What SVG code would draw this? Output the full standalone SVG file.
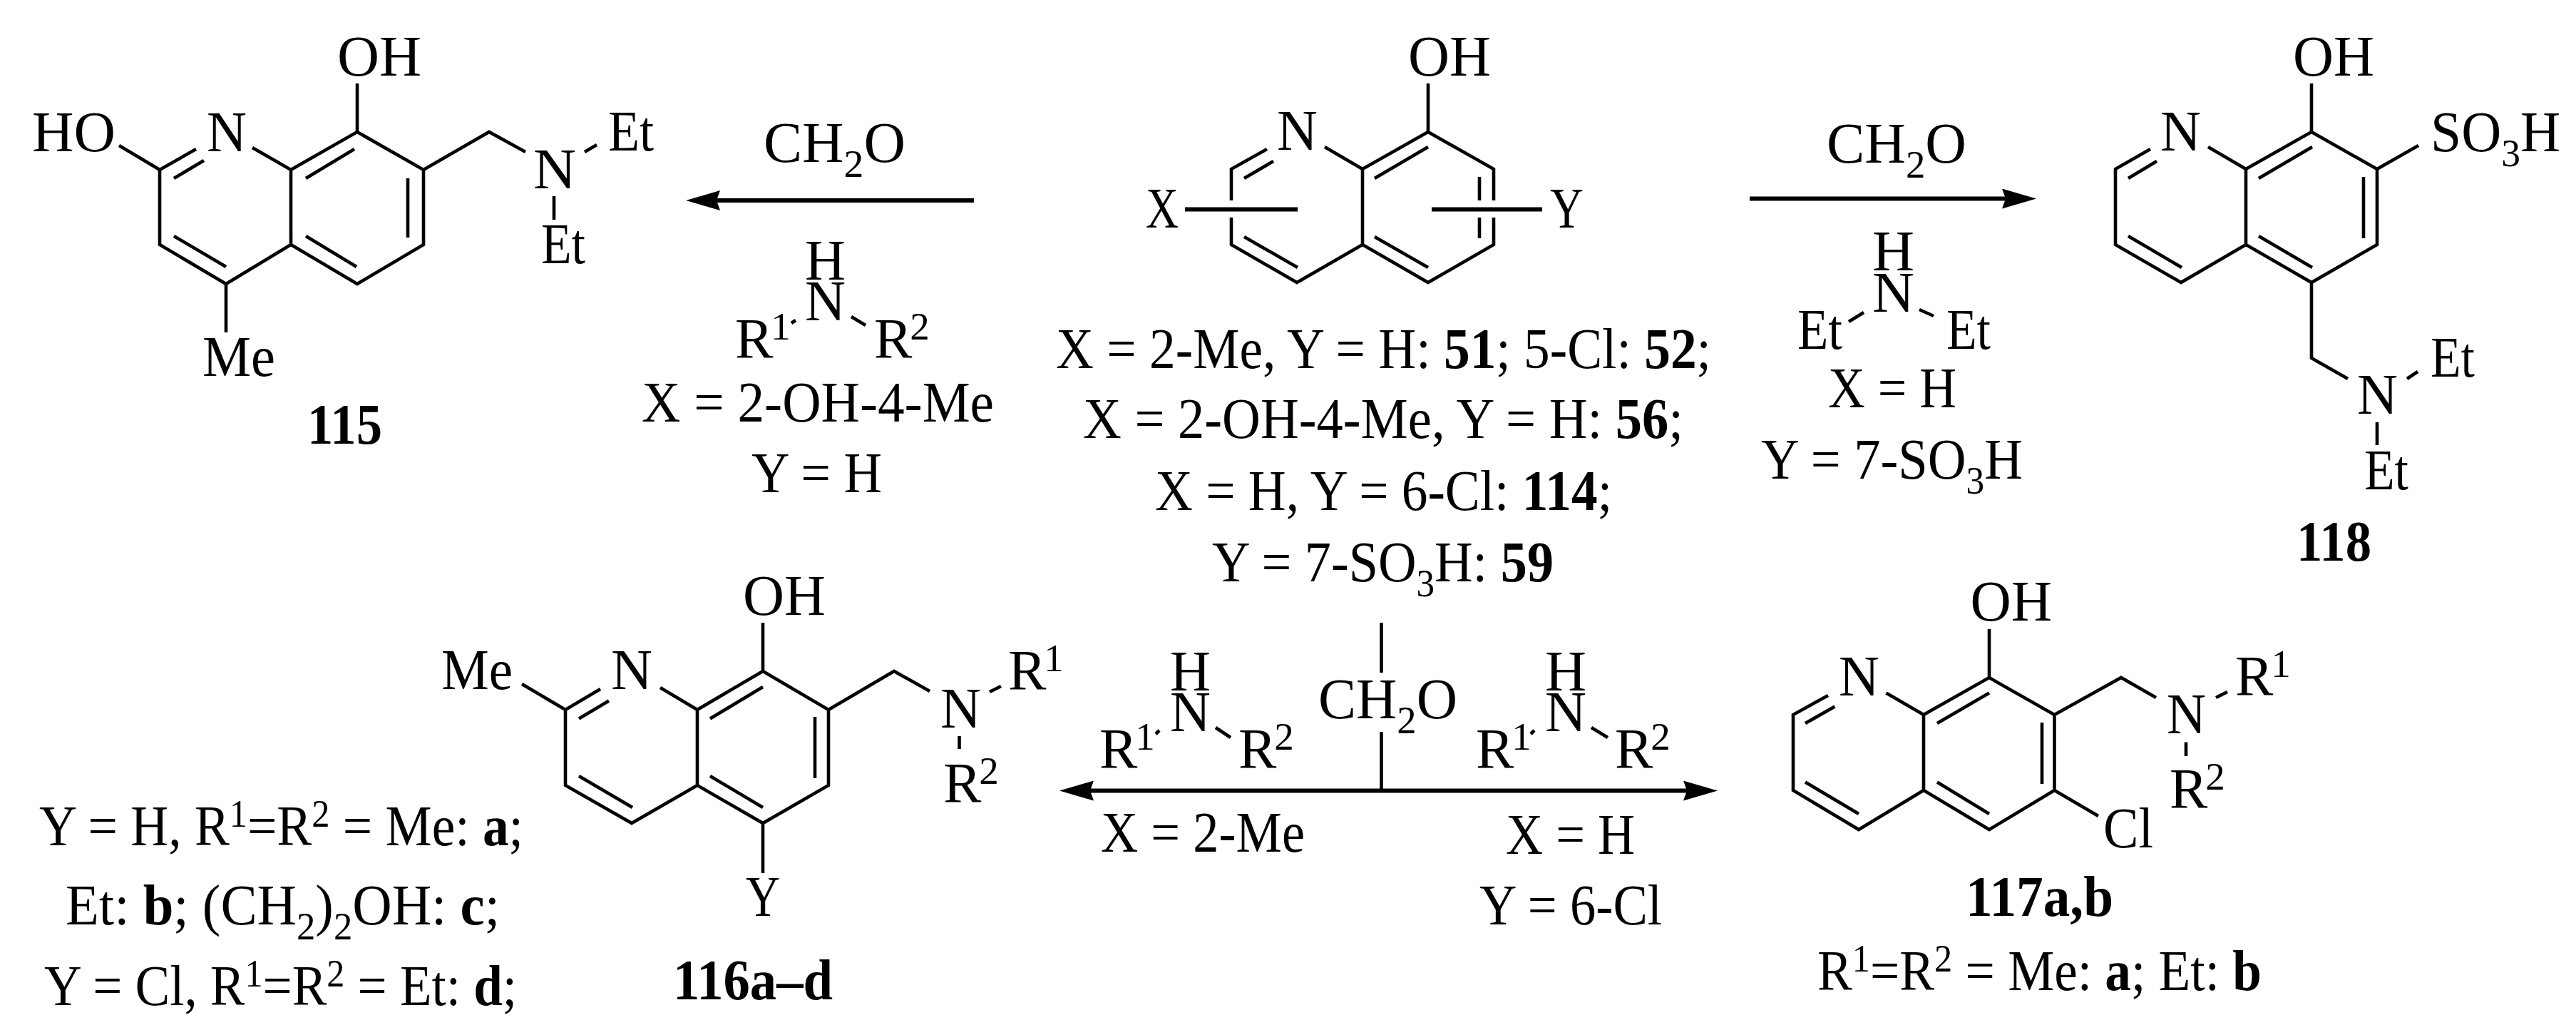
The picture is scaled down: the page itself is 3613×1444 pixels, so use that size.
<svg xmlns="http://www.w3.org/2000/svg" width="3613" height="1444" viewBox="0 0 3613 1444">
<style>
text{font-family:"Liberation Serif","Times New Roman",serif;font-size:80px;fill:#000}
.w{font-weight:700}
tspan.w{font-weight:700}
.s{font-size:55px}
.bond{fill:none;stroke:#000;stroke-width:4.6;stroke-linejoin:miter}
.thick{fill:none;stroke:#000;stroke-width:6}
.arrow{fill:none;stroke:#000;stroke-width:6}
</style>
<defs>
<marker id="head" markerUnits="userSpaceOnUse" markerWidth="48" markerHeight="28" viewBox="0 0 48 28" refX="18" refY="14" orient="auto-start-reverse">
<path d="M0,0L48,14L0,28L5,14Z" fill="#000"/>
</marker>
</defs>
<rect width="3613" height="1444" fill="#fff"/>

<g id="connectors">
<path class="arrow" d="M1366,281H992" marker-end="url(#head)"/>
<path class="arrow" d="M2454,278.500H2826" marker-end="url(#head)"/>
<path class="arrow" d="M1516,1108.500H2379" marker-start="url(#head)" marker-end="url(#head)"/>
<path class="bond" d="M1937.500,873V943M1937.500,1026V1106"/>
</g>

<g id="node-115">
<path class="bond" d="M501,117V185L408,238M501,185L594,238V343L501,398L408,343V238M408,343L317,398L224,343V238L275,209M224,238L167,204M244,250L286,225M354,207L408,238M429,250L497,209M572,250V333M429,331L500,374M244,331L317,374M317,398V466M594,238L686,185L737,213M820,213L837,203M777,275V308"/>
<text x="473" y="105.500" textLength="118" lengthAdjust="spacingAndGlyphs">OH</text>
<text x="45" y="212" textLength="117" lengthAdjust="spacingAndGlyphs">HO</text>
<text x="290" y="212" textLength="56" lengthAdjust="spacingAndGlyphs">N</text>
<text x="853" y="211" textLength="64" lengthAdjust="spacingAndGlyphs">Et</text>
<text x="748" y="264" textLength="60" lengthAdjust="spacingAndGlyphs">N</text>
<text x="759" y="369" textLength="62" lengthAdjust="spacingAndGlyphs">Et</text>
<text x="284" y="527" textLength="102" lengthAdjust="spacingAndGlyphs">Me</text>
<text class="w" x="431" y="622" textLength="105" lengthAdjust="spacingAndGlyphs">115</text>
</g>

<g id="reagent-115">
<text x="1071" y="227" textLength="199" lengthAdjust="spacingAndGlyphs">CH<tspan class="s" dy="21">2</tspan><tspan dy="-21">O</tspan></text>
<text x="1129" y="392" textLength="57" lengthAdjust="spacingAndGlyphs">H</text>
<text x="1129" y="449" textLength="57" lengthAdjust="spacingAndGlyphs">N</text>
<text x="1031" y="502">R<tspan class="s" dx="-3" dy="-26">1</tspan></text>
<text x="1226" y="502">R<tspan class="s" dx="-3" dy="-26">2</tspan></text>
<path class="bond" d="M1110,453L1116,449M1194,444L1214,456"/>
<text x="900" y="591" textLength="494" lengthAdjust="spacingAndGlyphs">X = 2-OH-4-Me</text>
<text x="1054" y="690" textLength="183" lengthAdjust="spacingAndGlyphs">Y = H</text>
</g>

<g id="node-center">
<path class="bond" d="M2003,117V185L1911,237M2003,185L2095,237V281M2095,305V343L2003,396L1911,343V237M1911,343L1819,396L1727,343V305M1727,281V237L1777,209M1745,250L1786,226M1858,206L1911,237M2075,248V281M2075,305V334M1928,250L2003,206M1928,332L2003,375M1745,332L1820,375"/>
<path class="thick" d="M1662,293.500H1820M2008,293.500H2163"/>
<text x="1975" y="105.500" textLength="116" lengthAdjust="spacingAndGlyphs">OH</text>
<text x="1791" y="210" textLength="57" lengthAdjust="spacingAndGlyphs">N</text>
<text x="1607" y="319" textLength="46" lengthAdjust="spacingAndGlyphs">X</text>
<text x="2174" y="319" textLength="47" lengthAdjust="spacingAndGlyphs">Y</text>
<text x="1481" y="516" textLength="919" lengthAdjust="spacingAndGlyphs">X = 2-Me, Y = H: <tspan class="w">51</tspan>; 5-Cl: <tspan class="w">52</tspan>;</text>
<text x="1519" y="614" textLength="842" lengthAdjust="spacingAndGlyphs">X = 2-OH-4-Me, Y = H: <tspan class="w">56</tspan>;</text>
<text x="1620" y="715" textLength="641" lengthAdjust="spacingAndGlyphs">X = H, Y = 6-Cl: <tspan class="w">114</tspan>;</text>
<text x="1700" y="815" textLength="479" lengthAdjust="spacingAndGlyphs">Y = 7-SO<tspan class="s" dy="21">3</tspan><tspan dy="-21">H: </tspan><tspan class="w">59</tspan></text>
</g>

<g id="reagent-118">
<text x="2562" y="228" textLength="196" lengthAdjust="spacingAndGlyphs">CH<tspan class="s" dy="21">2</tspan><tspan dy="-21">O</tspan></text>
<text x="2626" y="379" textLength="59" lengthAdjust="spacingAndGlyphs">H</text>
<text x="2626" y="436.500" textLength="59" lengthAdjust="spacingAndGlyphs">N</text>
<text x="2521" y="488.500" textLength="63" lengthAdjust="spacingAndGlyphs">Et</text>
<text x="2730" y="488.500" textLength="62" lengthAdjust="spacingAndGlyphs">Et</text>
<path class="bond" d="M2593,451L2614,438M2692,434L2712,443"/>
<text x="2564" y="571" textLength="180" lengthAdjust="spacingAndGlyphs">X = H</text>
<text x="2470" y="670.500" textLength="367" lengthAdjust="spacingAndGlyphs">Y = 7-SO<tspan class="s" dy="21">3</tspan><tspan dy="-21">H</tspan></text>
</g>

<g id="node-118">
<path class="bond" d="M3242,117V185L3150,237M3242,185L3334,237V343L3242,396L3150,343V237M3150,343L3059,396L2967,343V237L3016,209M3097,206L3150,237M2985,250L3025,226M2985,331L3060,375M3168,250L3243,206M3315,248V334M3168,331L3243,375M3334,237L3392,204M3242,396V502L3293,531M3376,531L3391,521M3334,592V624"/>
<text x="3216" y="105.500" textLength="114" lengthAdjust="spacingAndGlyphs">OH</text>
<text x="3030" y="210.500" textLength="57" lengthAdjust="spacingAndGlyphs">N</text>
<text x="3409" y="211.500" textLength="182" lengthAdjust="spacingAndGlyphs">SO<tspan class="s" dy="21">3</tspan><tspan dy="-21">H</tspan></text>
<text x="3306" y="580" textLength="57" lengthAdjust="spacingAndGlyphs">N</text>
<text x="3409" y="527.500" textLength="62" lengthAdjust="spacingAndGlyphs">Et</text>
<text x="3316" y="685.500" textLength="62" lengthAdjust="spacingAndGlyphs">Et</text>
<text class="w" x="3221" y="786" textLength="105" lengthAdjust="spacingAndGlyphs">118</text>
</g>

<g id="node-116">
<path class="bond" d="M1070,873V941L978,995M1070,941L1162,995V1101L1070,1154L978,1101V995M978,1101L886,1154L793,1101V995L842,966M926,964L978,995M793,995L732,959M812,1007.500L854,982.500M812,1088L887,1132M996,1007.500L1070,963M1143,1005V1091M996,1088L1070,1132M1070,1154V1224M1162,995L1254,941L1304,969M1388,970L1404,962M1345.500,1032V1050"/>
<text x="1042" y="862" textLength="116" lengthAdjust="spacingAndGlyphs">OH</text>
<text x="857" y="966" textLength="58" lengthAdjust="spacingAndGlyphs">N</text>
<text x="619" y="966" textLength="100" lengthAdjust="spacingAndGlyphs">Me</text>
<text x="1046" y="1284" textLength="48" lengthAdjust="spacingAndGlyphs">Y</text>
<text x="1319" y="1020" textLength="57" lengthAdjust="spacingAndGlyphs">N</text>
<text x="1414" y="967">R<tspan class="s" dx="-3" dy="-26">1</tspan></text>
<text x="1323" y="1124.500">R<tspan class="s" dx="-3" dy="-26">2</tspan></text>
<text class="w" x="944" y="1401" textLength="224" lengthAdjust="spacingAndGlyphs">116a–d</text>
<text x="55" y="1185" textLength="679" lengthAdjust="spacingAndGlyphs">Y = H, R<tspan class="s" dy="-26">1</tspan><tspan dy="26">=R</tspan><tspan class="s" dy="-26">2</tspan><tspan dy="26"> = Me: </tspan><tspan class="w">a</tspan>;</text>
<text x="92" y="1296" textLength="609" lengthAdjust="spacingAndGlyphs">Et: <tspan class="w">b</tspan>; (CH<tspan class="s" dy="21">2</tspan><tspan dy="-21">)</tspan><tspan class="s" dy="21">2</tspan><tspan dy="-21">OH: </tspan><tspan class="w">c</tspan>;</text>
<text x="62" y="1409" textLength="663" lengthAdjust="spacingAndGlyphs">Y = Cl, R<tspan class="s" dy="-26">1</tspan><tspan dy="26">=R</tspan><tspan class="s" dy="-26">2</tspan><tspan dy="26"> = Et: </tspan><tspan class="w">d</tspan>;</text>
</g>

<g id="reagent-bottom">
<text x="1849" y="1007" textLength="195" lengthAdjust="spacingAndGlyphs">CH<tspan class="s" dy="21">2</tspan><tspan dy="-21">O</tspan></text>
<text x="1641" y="968" textLength="57" lengthAdjust="spacingAndGlyphs">H</text>
<text x="1641" y="1025" textLength="57" lengthAdjust="spacingAndGlyphs">N</text>
<text x="1542" y="1077">R<tspan class="s" dx="-3" dy="-26">1</tspan></text>
<text x="1737" y="1077">R<tspan class="s" dx="-3" dy="-26">2</tspan></text>
<path class="bond" d="M1621,1029L1626,1024M1705,1020L1726,1034"/>
<text x="1544" y="1194" textLength="286" lengthAdjust="spacingAndGlyphs">X = 2-Me</text>
<text x="2167" y="968" textLength="58" lengthAdjust="spacingAndGlyphs">H</text>
<text x="2167" y="1025" textLength="58" lengthAdjust="spacingAndGlyphs">N</text>
<text x="2070" y="1077">R<tspan class="s" dx="-3" dy="-26">1</tspan></text>
<text x="2265" y="1077">R<tspan class="s" dx="-3" dy="-26">2</tspan></text>
<path class="bond" d="M2147,1029L2152,1024M2232,1020L2255,1034"/>
<text x="2112" y="1197" textLength="181" lengthAdjust="spacingAndGlyphs">X = H</text>
<text x="2075" y="1296" textLength="256" lengthAdjust="spacingAndGlyphs">Y = 6-Cl</text>
</g>

<g id="node-117">
<path class="bond" d="M2790,882V950L2698,1002M2790,950L2881.500,1002V1108L2790,1163L2698,1108V1002M2698,1108L2607,1163L2515,1108V1002L2564,975M2645.500,971.500L2698,1002M2532,1014L2573.500,990.600M2532,1096.500L2607,1141M2717,1014L2790,971.500M2864,1013V1099M2717,1096.500L2790,1141M2881.500,1002L2975,950L3024,978M3108,978L3124,970M3066,1040.600V1060M2881.500,1108L2943,1144"/>
<text x="2763.500" y="870" textLength="114.500" lengthAdjust="spacingAndGlyphs">OH</text>
<text x="2579" y="975" textLength="57" lengthAdjust="spacingAndGlyphs">N</text>
<text x="3039" y="1028" textLength="55" lengthAdjust="spacingAndGlyphs">N</text>
<text x="3135" y="975">R<tspan class="s" dx="-3" dy="-26">1</tspan></text>
<text x="3043" y="1133">R<tspan class="s" dx="-3" dy="-26">2</tspan></text>
<text x="2950" y="1188" textLength="70" lengthAdjust="spacingAndGlyphs">Cl</text>
<text class="w" x="2757" y="1284" textLength="207" lengthAdjust="spacingAndGlyphs">117a,b</text>
<text x="2549" y="1388" textLength="623" lengthAdjust="spacingAndGlyphs">R<tspan class="s" dy="-26">1</tspan><tspan dy="26">=R</tspan><tspan class="s" dy="-26">2</tspan><tspan dy="26"> = Me: </tspan><tspan class="w">a</tspan>; Et: <tspan class="w">b</tspan></text>
</g>
</svg>
